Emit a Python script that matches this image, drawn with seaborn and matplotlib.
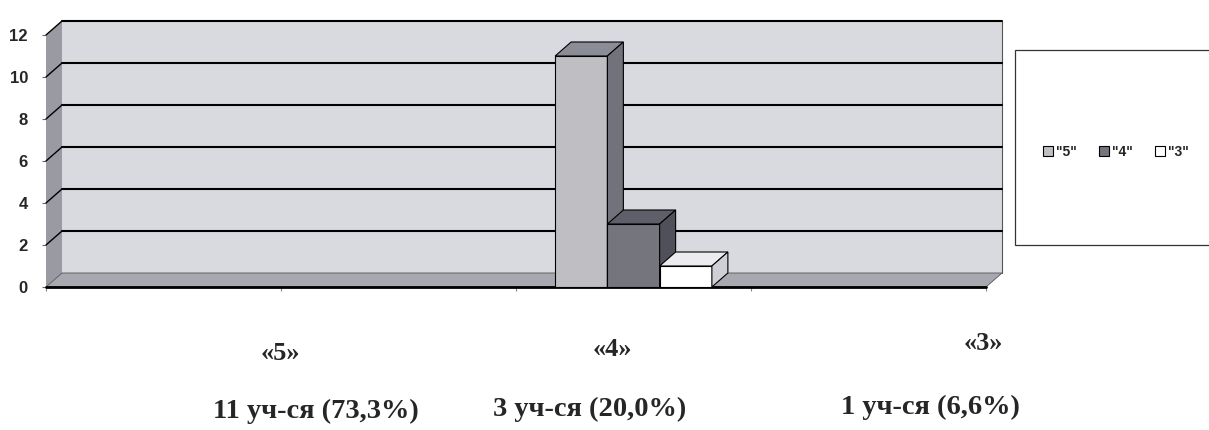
import numpy as np
import pandas as pd
import matplotlib
matplotlib.use("Agg")
import matplotlib.pyplot as plt
from matplotlib.patches import Polygon, Rectangle
import seaborn as sns

# --- data ---
series_names = ['"5"', '"4"', '"3"']
counts = [11, 3, 1]
slot_order = ["c1", "c2", "c3", "c4"]   # 4 category slots on the x axis, only the third one is filled
filled_slot = "c3"
y_ticks = [0, 2, 4, 6, 8, 10, 12]
grade_labels = ["«5»", "«4»", "«3»"]
grade_notes = ["11 уч-ся (73,3%)", "3 уч-ся (20,0%)", "1 уч-ся (6,6%)"]

# colours: front / top / side of each series
front_colors = ["#bdbdc4", "#74747e", "#ffffff"]
top_colors = ["#8c8c96", "#5f5f6a", "#ececf0"]
side_colors = ["#72727c", "#50505a", "#cfcfd6"]
wall_color = "#d9d9e0"
side_wall_color = "#9a9aa2"
floor_color = "#a8a8b0"

sns.set_style("white")
plt.rcParams["font.family"] = ["Liberation Sans", "DejaVu Sans"]

W, H = 1209, 430
fig = plt.figure(figsize=(W / 100, H / 100), dpi=100)

# pixel anchors of the front plane
px_left, px_base = 46, 287
px_per_x, px_per_y = 235, 21
depth_x, depth_y = 16 / px_per_x, 14 / px_per_y

x_lo, x_hi = -0.5, len(slot_order) - 0.5
y_top = max(y_ticks)
ax_w = (x_hi - x_lo + depth_x) * px_per_x
ax_h = (y_top + depth_y) * px_per_y
ax = fig.add_axes([px_left / W, (H - px_base) / H, ax_w / W, ax_h / H])

df = pd.DataFrame({"slot": filled_slot, "series": series_names, "count": counts})
sns.barplot(data=df, x="slot", y="count", hue="series", order=slot_order,
            hue_order=series_names, palette=front_colors, width=0.667,
            edgecolor="black", linewidth=0.8, ax=ax)

ax.set_xlim(x_lo, x_hi + depth_x)
ax.set_ylim(0, y_top + depth_y)

# back wall, side wall and floor
ax.add_patch(Rectangle((x_lo + depth_x, depth_y), x_hi - x_lo, y_top,
                       facecolor=wall_color, edgecolor="none", zorder=0.5, clip_on=False))
ax.add_patch(Polygon([(x_lo, 0), (x_lo + depth_x, depth_y), (x_lo + depth_x, y_top + depth_y), (x_lo, y_top)],
                     closed=True, facecolor=side_wall_color, edgecolor="none", zorder=0.6, clip_on=False))
ax.add_patch(Polygon([(x_lo, 0), (x_hi, 0), (x_hi + depth_x, depth_y), (x_lo + depth_x, depth_y)],
                     closed=True, facecolor=floor_color, edgecolor="#555555", linewidth=0.6,
                     zorder=0.7, clip_on=False))
ax.plot([x_hi + depth_x, x_hi + depth_x], [depth_y, y_top + depth_y], color="#555555", lw=0.8,
        zorder=0.8, clip_on=False)

# gridlines on back wall and their slanted part on the side wall
for yv in y_ticks[1:]:
    ax.plot([x_lo + depth_x, x_hi + depth_x], [yv + depth_y, yv + depth_y], color="black", lw=1.5,
            zorder=1, clip_on=False)
    ax.plot([x_lo, x_lo + depth_x], [yv, yv + depth_y], color="black", lw=1.0, zorder=1, clip_on=False)
ax.plot([x_lo, x_hi], [0, 0], color="black", lw=2.0, zorder=2, clip_on=False)

# 3d faces of the bars
bars = [p for p in ax.patches if isinstance(p, Rectangle) and p.get_height() > 0 and p.get_width() < 1]
bars = sorted(bars, key=lambda p: p.get_x())
for i, p in enumerate(bars):
    x0, w, h = p.get_x(), p.get_width(), p.get_height()
    p.set_zorder(3 + i)
    ax.add_patch(Polygon([(x0, h), (x0 + w, h), (x0 + w + depth_x, h + depth_y), (x0 + depth_x, h + depth_y)],
                         closed=True, facecolor=top_colors[i], edgecolor="black", linewidth=0.8,
                         zorder=3 + i, clip_on=False))
    ax.add_patch(Polygon([(x0 + w, 0), (x0 + w + depth_x, depth_y), (x0 + w + depth_x, h + depth_y), (x0 + w, h)],
                         closed=True, facecolor=side_colors[i], edgecolor="black", linewidth=0.8,
                         zorder=3 + i, clip_on=False))

for s in ax.spines.values():
    s.set_visible(False)
ax.set_yticks(y_ticks)
ax.set_yticklabels([str(v) for v in y_ticks], fontsize=12, weight="bold")
ax.set_xticks(np.arange(x_lo, x_hi + 0.01, 1.0))
ax.set_xticklabels([])
ax.tick_params(axis="y", length=3, width=0.8, color="#666666", pad=10, left=True)
ax.tick_params(axis="x", length=3, width=0.8, color="#888888", bottom=True)
ax.set_xlabel("")
ax.set_ylabel("")

# legend inside a large box at the right
handles, labels = ax.get_legend_handles_labels()
ax.get_legend().remove()
fig.patches.append(Rectangle((1015 / W, (H - 245) / H), 0.2, 195 / H, transform=fig.transFigure,
                             facecolor="white", edgecolor="#333333", linewidth=0.9))
fig.legend(handles, labels, loc="center", bbox_to_anchor=(1116 / W, 1 - 152 / H), ncol=3,
           frameon=False, prop={"size": 10, "weight": "bold"}, handlelength=0.7, handleheight=0.7,
           handletextpad=0.25, columnspacing=1.6)

# captions under the chart
label_pos = [(280, 354), (612, 349), (983, 344)]
note_pos = [(316, 411), (590, 409), (930, 407)]
for txt, (px, py) in zip(grade_labels, label_pos):
    fig.text(px / W, 1 - py / H, txt, ha="center", va="center", fontsize=19,
             family=["Liberation Serif", "DejaVu Serif"], weight="bold")
for txt, (px, py) in zip(grade_notes, note_pos):
    fig.text(px / W, 1 - py / H, txt, ha="center", va="center", fontsize=20.5,
             family=["Liberation Serif", "DejaVu Serif"], weight="bold")

fig.savefig("out.png", dpi=100)
